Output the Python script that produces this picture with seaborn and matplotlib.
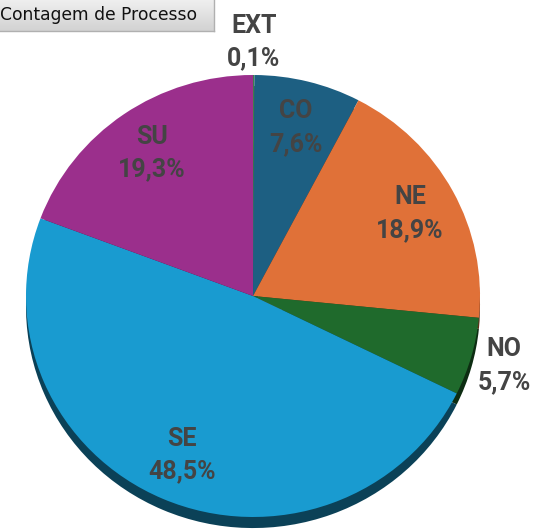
import numpy as np
import matplotlib
matplotlib.use("Agg")
import matplotlib.pyplot as plt
import seaborn as sns

# ---- data ----
regions = ["EXT", "CO", "NE", "NO", "SE", "SU"]
shares = [0.1, 7.6, 18.9, 5.7, 48.5, 19.3]
pct_labels = ["0,1%", "7,6%", "18,9%", "5,7%", "48,5%", "19,3%"]
outside = [True, False, False, True, False, False]
colors = ["#3f7d4c", "#1d5f82", "#e07138", "#1f6a2c", "#199bd0", "#9b2f8c"]
title = "Contagem de Processo"

sns.set_theme(style="white")
plt.rcParams['font.family'] = ['Roboto', 'DejaVu Sans']

W, H = 533, 530
fig = plt.figure(figsize=(W / 100, H / 100), dpi=100)
ax = fig.add_axes([0, 0, 1, 1])

cx, cy, rx, ry = 253, 296, 227, 221

def shade(c, f=0.42):
    r, g, b = matplotlib.colors.to_rgb(c)
    return (r * f, g * f, b * f)

off = 0.05
ax.pie(shares, colors=[shade(c) for c in colors], startangle=90, counterclock=False,
       radius=1, center=(0, -off), wedgeprops=dict(linewidth=0), normalize=True)
wedges, _ = ax.pie(shares, colors=colors, startangle=90, counterclock=False,
                   radius=1, center=(0, 0), wedgeprops=dict(linewidth=0), normalize=True)

ax.set_aspect('auto')
ax.set_xlim((0 - cx) / rx, (W - cx) / rx)
ax.set_ylim(-(H - cy) / ry, cy / ry)
ax.axis('off')

for w, name, pl, out in zip(wedges, regions, pct_labels, outside):
    ang = np.deg2rad((w.theta1 + w.theta2) / 2)
    r = 1.15 if out else 0.785
    ax.text(r * np.cos(ang), r * np.sin(ang), f"{name}\n{pl}", ha='center', va='center',
            fontsize=18, fontweight='bold', color='#444444', linespacing=1.45)

# title box with gradient
bax = fig.add_axes([0, (H - 31) / H, 214 / W, 31 / H])
grad = np.linspace(0, 1, 50).reshape(-1, 1)
bax.imshow(grad, aspect='auto', cmap=matplotlib.colors.LinearSegmentedColormap.from_list(
    'g', ['#efefef', '#d2d2d2']), extent=[0, 1, 0, 1])
bax.set_xlim(0, 1)
bax.set_ylim(0, 1)
bax.set_xticks([])
bax.set_yticks([])
for s in ['left', 'top']:
    bax.spines[s].set_visible(False)
for s in ['right', 'bottom']:
    bax.spines[s].set_color('#b0b0b0')
    bax.spines[s].set_linewidth(1)
fig.text(0.5 / W, (H - 15) / H, title, ha='left', va='center', fontsize=12.3,
         color='#111111', family=['DejaVu Sans'])

fig.savefig("out.png", dpi=100)
